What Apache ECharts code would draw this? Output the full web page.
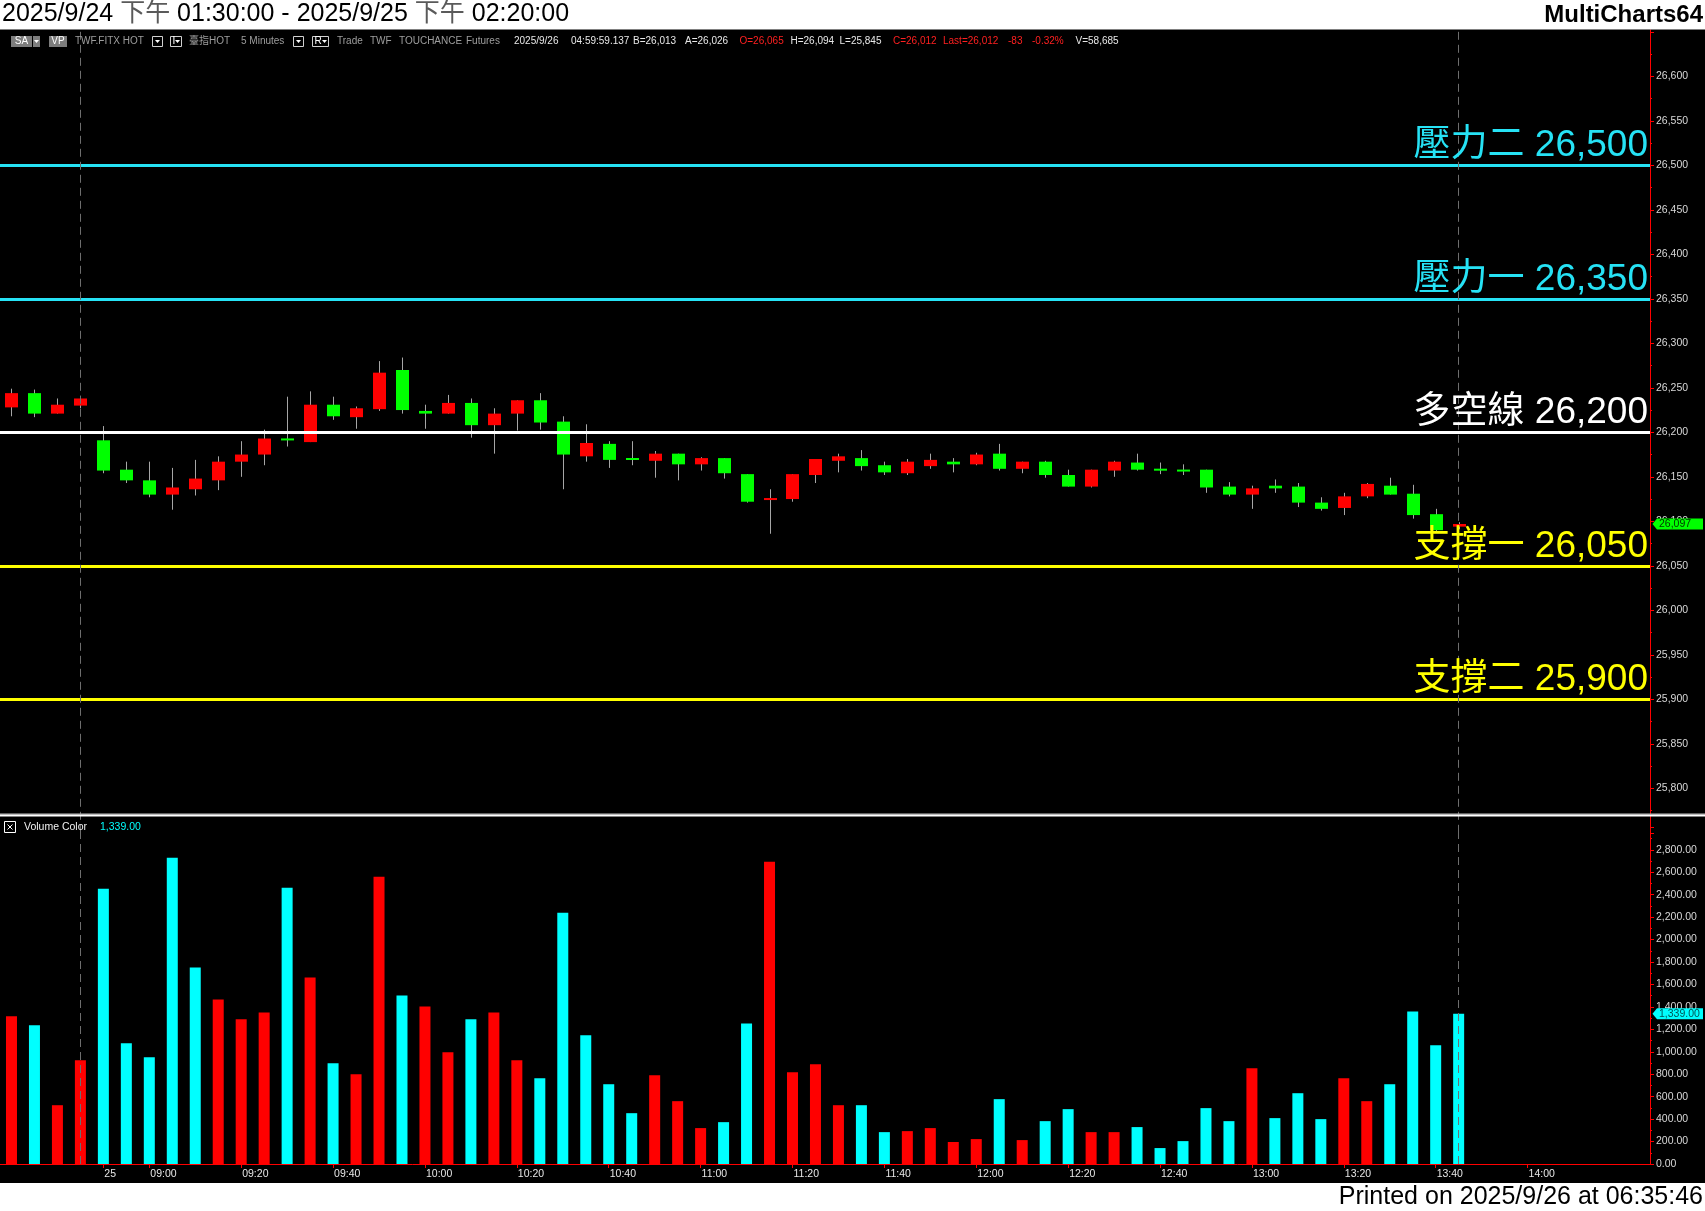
<!DOCTYPE html>
<html><head><meta charset="utf-8">
<script src="https://cdn.jsdelivr.net/npm/echarts@6/dist/echarts.min.js"></script>
<style>html,body{margin:0;padding:0;background:#fff;}#c{width:1705px;height:1211px;}</style>
</head><body><div id="c"></div>
<script>
// ---------------- DATA ----------------
const times = ['04:45','04:50','04:55','05:00','08:50','08:55','09:00','09:05','09:10','09:15','09:20','09:25','09:30','09:35','09:40','09:45','09:50','09:55','10:00','10:05','10:10','10:15','10:20','10:25','10:30','10:35','10:40','10:45','10:50','10:55','11:00','11:05','11:10','11:15','11:20','11:25','11:30','11:35','11:40','11:45','11:50','11:55','12:00','12:05','12:10','12:15','12:20','12:25','12:30','12:35','12:40','12:45','12:50','12:55','13:00','13:05','13:10','13:15','13:20','13:25','13:30','13:35','13:40','13:45','13:50','13:55','14:00','14:05','14:10','14:15','14:20','14:25'];
const opens  = [26228,26244,26221,26230,26191,26158,26146,26130,26136,26146,26167,26175,26193,26189,26231,26217,26226,26270,26224,26221,26233,26208,26221,26236,26212,26173,26187,26171,26168,26176,26164,26171,26153,26124,26125,26152,26168,26171,26163,26154,26162,26167,26164,26176,26159,26167,26152,26139,26157,26166,26159,26158,26158,26139,26130,26140,26139,26121,26115,26128,26140,26131,26108,26094];
const highs  = [26249,26248,26238,26241,26207,26167,26167,26160,26169,26173,26190,26203,26240,26246,26240,26229,26280,26284,26231,26242,26238,26227,26236,26244,26218,26209,26190,26190,26179,26176,26172,26171,26153,26136,26153,26170,26176,26180,26167,26170,26176,26171,26177,26187,26167,26168,26158,26158,26168,26176,26166,26164,26158,26144,26140,26147,26143,26127,26132,26143,26149,26141,26114,26099];
const lows   = [26218,26217,26221,26227,26154,26143,26127,26113,26129,26135,26150,26163,26184,26189,26214,26204,26224,26221,26204,26221,26194,26176,26202,26203,26136,26167,26160,26163,26149,26146,26157,26148,26121,26086,26122,26143,26155,26157,26152,26152,26159,26155,26163,26157,26154,26149,26139,26138,26150,26157,26153,26152,26132,26128,26114,26132,26116,26112,26107,26126,26130,26103,26089,26091];
const closes = [26244,26221,26231,26238,26157,26146,26130,26138,26148,26167,26175,26193,26191,26231,26218,26227,26267,26225,26221,26233,26208,26221,26236,26211,26175,26188,26169,26169,26176,26164,26171,26154,26122,26126,26153,26170,26173,26162,26155,26167,26169,26164,26175,26159,26167,26152,26139,26158,26167,26158,26157,26156,26138,26130,26137,26137,26121,26114,26128,26142,26130,26107,26090,26097];
const volumes = [1316,1236,524,924,2453,1076,951,2729,1751,1467,1289,1351,2462,1662,898,800,2560,1502,1404,996,1289,1351,924,764,2240,1147,711,453,791,560,320,373,1253,2693,818,889,524,524,284,293,320,196,222,578,213,382,489,284,284,329,142,204,498,382,853,409,631,400,764,560,711,1360,1058,1339];
const volumeDir = ['r','c','r','r','c','c','c','c','c','r','r','r','c','r','c','r','r','c','r','r','c','r','r','c','c','c','c','c','r','r','r','c','c','r','r','r','r','c','c','r','r','r','r','c','r','c','c','r','r','c','c','c','c','c','r','c','c','c','r','r','c','c','c','c'];
const tickTimes = ['08:50','09:00','09:20','09:40','10:00','10:20','10:40','11:00','11:20','11:40','12:00','12:20','12:40','13:00','13:20','13:40','14:00'];
const tickTexts = ['25','09:00','09:20','09:40','10:00','10:20','10:40','11:00','11:20','11:40','12:00','12:20','12:40','13:00','13:20','13:40','14:00'];
const levelValues = [26500,26350,26200,26050,25900];
const levelNames = ['壓力二','壓力一','多空線','支撐一','支撐二'];
const sessionMarks = ['05:00','13:45'];

// ---------------- STYLE ----------------
const LEVEL_COLORS = ['#26e2f5','#26e2f5','#ffffff','#ffff00','#ffff00'];
const UP = '#ff0000', DOWN = '#00ff00', VOL_UP = '#ff0000', VOL_DN = '#00ffff';
const FONT = '"Liberation Sans", Arial, "Noto Sans CJK TC", sans-serif';
const AXIS_RED = '#ff0000';
const XMAX = 71.33;

const chart = echarts.init(document.getElementById('c'), null, {renderer:'canvas'});
const tickIdx = tickTimes.map(t => times.indexOf(t));
const candleData = opens.map((o,i) => [i, o, closes[i], lows[i], highs[i]]);
const fmt = v => v.toLocaleString('en-US');

function renderCandle(params, api) {
  const i = api.value(0), o = api.value(1), c = api.value(2), l = api.value(3), h = api.value(4);
  const pO = api.coord([i, o]), pC = api.coord([i, c]), pL = api.coord([i, l]), pH = api.coord([i, h]);
  const w = Math.round(api.size([1, 0])[0] * 0.57);
  const cx = Math.round(pO[0]);
  let top = Math.min(pO[1], pC[1]);
  let hgt = Math.abs(pO[1] - pC[1]);
  if (hgt < 2) { top = (pO[1] + pC[1]) / 2 - 1; hgt = 2; }
  return {type:'group', children:[
    {type:'line', shape:{x1:cx+0.5, y1:pH[1], x2:cx+0.5, y2:pL[1]}, style:{stroke:'#a6a6a6', lineWidth:1}},
    {type:'rect', shape:{x:cx - w/2 + 0.5, y:top, width:w, height:hgt}, style:{fill: c >= o ? UP : DOWN}}
  ]};
}

const dashLines = sessionMarks.map(t => ({xAxis: times.indexOf(t), lineStyle:{color:'#6e6e6e', width:1, type:[8,5]}, label:{show:false}}));
const levelLines = levelValues.map((v,k) => ({
  yAxis: v,
  lineStyle:{color: LEVEL_COLORS[k], width:3, type:'solid'},
  label:{show:true, position:'insideEndTop', distance:[2,1], formatter: levelNames[k] + ' ' + fmt(v),
         color: LEVEL_COLORS[k], fontSize:37, fontFamily: FONT}
}));

const yLabel = {color:'#d8d8d8', fontSize:10.5, fontFamily:FONT, margin:6};

const option = {
  backgroundColor:'#000',
  animation:false,
  grid:[
    {left:0, width:1650, top:31.8, height:801},
    {left:0, width:1650, top:827.4, height:336.6}
  ],
  xAxis:[
    {type:'value', gridIndex:0, min:-0.5, max:XMAX, show:false, splitLine:{show:false}},
    {type:'value', gridIndex:1, min:-0.5, max:XMAX,
     axisLine:{show:true, onZero:false, lineStyle:{color:AXIS_RED, width:1}},
     axisTick:{show:true, customValues:tickIdx, length:4, lineStyle:{color:AXIS_RED}},
     axisLabel:{show:true, customValues:tickIdx, color:'#e6e6e6', fontSize:10.5, fontFamily:FONT, align:'left', margin:5, padding:[0,0,0,1],
       formatter: v => { const k = tickIdx.indexOf(Math.round(v)); return k >= 0 ? tickTexts[k] : ''; }},
     splitLine:{show:false}}
  ],
  yAxis:[
    {type:'value', gridIndex:0, position:'right', min:25750, max:26650, interval:50,
     axisLine:{show:true, onZero:false, lineStyle:{color:AXIS_RED}},
     axisTick:{show:true, length:4, lineStyle:{color:AXIS_RED}},
     minorTick:{show:true, splitNumber:2, length:2, lineStyle:{color:AXIS_RED}},
     splitLine:{show:false},
     axisLabel:Object.assign({}, yLabel, {formatter: v => (v < 25800 || v > 26600) ? '' : fmt(v)})},
    {type:'value', gridIndex:1, position:'right', min:0, max:3000, interval:200,
     axisLine:{show:true, onZero:false, lineStyle:{color:AXIS_RED}},
     axisTick:{show:true, length:4, lineStyle:{color:AXIS_RED}},
     minorTick:{show:true, splitNumber:2, length:2, lineStyle:{color:AXIS_RED}},
     splitLine:{show:false},
     axisLabel:Object.assign({}, yLabel, {formatter: v => v > 2800 ? '' : v.toLocaleString('en-US',{minimumFractionDigits:2, maximumFractionDigits:2})})}
  ],
  series:[
    {type:'custom', name:'price', xAxisIndex:0, yAxisIndex:0, data:candleData, renderItem:renderCandle,
     encode:{x:0, y:[1,2,3,4]}, z:3, silent:true},
    {type:'line', name:'levels', xAxisIndex:0, yAxisIndex:0, data:[], z:5, silent:true,
     markLine:{symbol:['none','none'], silent:true, animation:false, precision:0, data: levelLines.concat(dashLines)}},
    {type:'bar', name:'volume', xAxisIndex:1, yAxisIndex:1, barWidth:11, silent:true, z:3,
     data: volumes.map((v,i) => ({value:[i, v], itemStyle:{color: volumeDir[i] === 'r' ? VOL_UP : VOL_DN}})),
     markLine:{symbol:['none','none'], silent:true, animation:false, data: dashLines}}
  ]
};
chart.setOption(option);

// ---------------- DECORATION ----------------
const G = [];
G.push({type:'rect', z:10, shape:{x:0, y:0, width:1705, height:29.5}, style:{fill:'#fff'}});
G.push({type:'rect', z:10, shape:{x:0, y:1183, width:1705, height:28}, style:{fill:'#fff'}});
G.push({type:'line', z:9, shape:{x1:1650.5, y1:29.5, x2:1650.5, y2:33}, style:{stroke:AXIS_RED, lineWidth:1}});
G.push({type:'text', z:11, style:{x:2, y:14.5, text:'2025/9/24 {g|下午} 01:30:00 - 2025/9/25 {g|下午} 02:20:00',
  font:'25px ' + FONT, fill:'#000', textVerticalAlign:'middle', rich:{g:{fill:'#5a5a5a', font:'25px ' + FONT}}}});
G.push({type:'text', z:11, style:{x:1703, y:15, text:'MultiCharts64', font:'bold 24px ' + FONT, fill:'#000', textAlign:'right', textVerticalAlign:'middle'}});
G.push({type:'text', z:11, style:{x:1703, y:1197, text:'Printed on 2025/9/26 at 06:35:46', font:'25px ' + FONT, fill:'#000', textAlign:'right', textVerticalAlign:'middle'}});

// info bar
const GRAY = '#9e9e9e', WHITE = '#e8e8e8', RED = '#ff2020';
const infoY = 41.5;
function tri(x, y) { return {type:'polygon', z:12, shape:{points:[[x-2.5,y-1.5],[x+2.5,y-1.5],[x,y+1.5]]}, style:{fill:'#fff'}}; }
G.push({type:'rect', z:11, shape:{x:11, y:36, width:21, height:11}, style:{fill:'#7d7d7d'}});
G.push({type:'text', z:12, style:{x:21.5, y:infoY, text:'SA', font:'10px ' + FONT, fill:'#fff', textAlign:'center', textVerticalAlign:'middle'}});
G.push({type:'rect', z:11, shape:{x:33, y:36, width:7, height:11}, style:{fill:'#7d7d7d'}});
G.push(tri(36.5, infoY));
G.push({type:'rect', z:11, shape:{x:49, y:36, width:18, height:11}, style:{fill:'#7d7d7d'}});
G.push({type:'text', z:12, style:{x:58, y:infoY, text:'VP', font:'10px ' + FONT, fill:'#fff', textAlign:'center', textVerticalAlign:'middle'}});
[[152,10,''],[170,11,'I'],[293,10,''],[312,16,'R']].forEach(b => {
  G.push({type:'rect', z:11, shape:{x:b[0]+0.5, y:36.5, width:b[1], height:10}, style:{fill:'#000', stroke:'#d0d0d0', lineWidth:1}});
  if (b[2]) {
    G.push({type:'text', z:12, style:{x:b[0]+2.5, y:infoY, text:b[2], font:'10px ' + FONT, fill:'#fff', textVerticalAlign:'middle'}});
    G.push(tri(b[0]+b[1]-3.5, infoY));
  } else {
    G.push(tri(b[0]+b[1]/2+0.5, infoY));
  }
});
const infoTexts = [
  [75,'TWF.FITX HOT',GRAY],[189,'臺指HOT',GRAY],[241,'5 Minutes',GRAY],[337,'Trade',GRAY],[370,'TWF',GRAY],
  [399,'TOUCHANCE',GRAY],[466,'Futures',GRAY],[514,'2025/9/26',WHITE],[571,'04:59:59.137',WHITE],
  [633,'B=26,013',WHITE],[685,'A=26,026',WHITE],[739.5,'O=26,065',RED],[790.5,'H=26,094',WHITE],
  [839.5,'L=25,845',WHITE],[893,'C=26,012',RED],[943,'Last=26,012',RED],[1008,'-83',RED],[1032,'-0.32%',RED],[1075.5,'V=58,685',WHITE]
];
infoTexts.forEach(t => G.push({type:'text', z:12, style:{x:t[0], y:infoY, text:t[1], font:'10px ' + FONT, fill:t[2], textVerticalAlign:'middle'}}));

// panel separator
G.push({type:'rect', z:11, shape:{x:0, y:813.5, width:1705, height:1.5}, style:{fill:'#bdbdbd'}});
G.push({type:'rect', z:11, shape:{x:0, y:815, width:1705, height:1.5}, style:{fill:'#ffffff'}});

// volume header
G.push({type:'rect', z:11, shape:{x:4.5, y:821.5, width:11, height:11}, style:{fill:'#000', stroke:'#ffffff', lineWidth:1}});
G.push({type:'line', z:12, shape:{x1:7.5, y1:824.5, x2:12.5, y2:829.5}, style:{stroke:'#fff', lineWidth:1}});
G.push({type:'line', z:12, shape:{x1:12.5, y1:824.5, x2:7.5, y2:829.5}, style:{stroke:'#fff', lineWidth:1}});
G.push({type:'text', z:12, style:{x:24, y:827.5, text:'Volume Color', font:'10.5px ' + FONT, fill:'#f0f0f0', textVerticalAlign:'middle'}});
const lastVol = volumes[volumes.length - 1];
G.push({type:'text', z:12, style:{x:100, y:827.5, text:lastVol.toLocaleString('en-US',{minimumFractionDigits:2}), font:'10.5px ' + FONT, fill:'#00ffff', textVerticalAlign:'middle'}});

// last-value markers on the axes
const lastClose = closes[closes.length - 1];
const yPrice = chart.convertToPixel({yAxisIndex:0}, lastClose);
const yVol = chart.convertToPixel({yAxisIndex:1}, lastVol);
function marker(y, fill, txt, col) {
  G.push({type:'polygon', z:13, shape:{points:[[1652.5,y],[1657,y-5.5],[1703,y-5.5],[1703,y+5.5],[1657,y+5.5]]}, style:{fill:fill}});
  G.push({type:'text', z:14, style:{x:1659, y:y+0.5, text:txt, font:'10.5px ' + FONT, fill:col, textVerticalAlign:'middle'}});
}
marker(yPrice, '#00ff00', fmt(lastClose), '#003300');
marker(yVol, '#00ffff', lastVol.toLocaleString('en-US',{minimumFractionDigits:2}), '#005555');

chart.setOption({graphic: G});
</script>
</body></html>
